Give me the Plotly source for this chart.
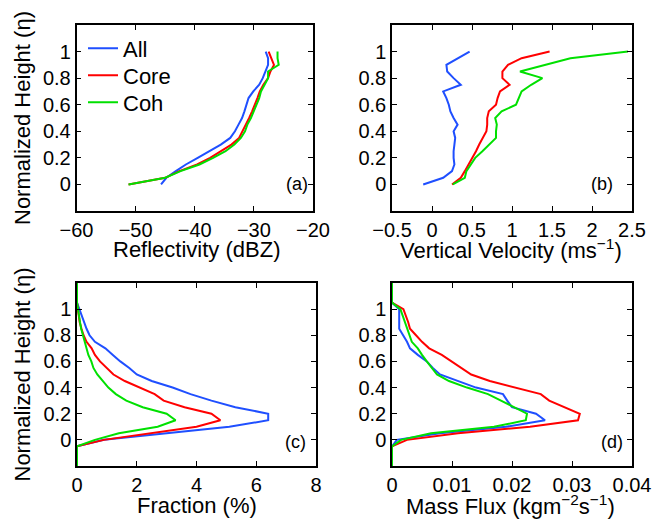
import plotly.graph_objects as go

# page size and the default 8px body margin of the written html page
PAGE_W, PAGE_H = 670, 522
OFF = 8
W, H = PAGE_W - OFF, PAGE_H - OFF

# ---------------- data ----------------
height_ab = [0.0, 0.05, 0.1, 0.15, 0.2, 0.25, 0.3, 0.35, 0.4, 0.45, 0.5,
             0.55, 0.6, 0.65, 0.7, 0.75, 0.8, 0.85, 0.9, 0.95, 1.0]

refl_all = [-45.7, -44.8, -43.2, -41.5, -39.5, -37.5, -35.6, -34.0, -33.2, -32.6, -32.0,
            -31.6, -31.2, -30.9, -30.1, -29.1, -28.5, -28.0, -27.6, -27.6, -28.0]
refl_core = [-51.2, -45.0, -42.6, -39.6, -37.4, -35.5, -33.8, -32.5, -31.9, -31.4, -30.8,
             -30.3, -29.8, -29.4, -29.0, -28.4, -27.6, -27.2, -26.6, -27.0, -27.5]
refl_coh = [-51.2, -45.0, -42.4, -39.2, -36.9, -34.8, -33.3, -32.2, -31.5, -31.1, -30.5,
            -30.0, -29.5, -29.1, -28.8, -28.2, -27.6, -27.6, -25.8, -26.0, -26.0]

w_all = [-0.11, 0.14, 0.25, 0.28, 0.27, 0.27, 0.28, 0.29, 0.27, 0.32, 0.27,
         0.23, 0.21, 0.18, 0.14, 0.36, 0.27, 0.19, 0.18, 0.32, 0.47]
w_core = [0.25, 0.36, 0.41, 0.46, 0.50, 0.55, 0.59, 0.64, 0.68, 0.69, 0.69,
          0.71, 0.80, 0.82, 0.85, 0.97, 0.88, 0.88, 0.95, 1.12, 1.47]
w_coh = [0.26, 0.41, 0.43, 0.48, 0.54, 0.63, 0.72, 0.80, 0.80, 0.81, 0.79,
         0.87, 1.05, 1.09, 1.12, 1.24, 1.38, 1.10, 1.42, 1.73, 2.45]

height_cd = [-0.2, -0.15, -0.1, -0.05, 0.0, 0.05, 0.1, 0.15, 0.2, 0.25, 0.3, 0.35, 0.4,
             0.45, 0.5, 0.55, 0.6, 0.65, 0.7, 0.75, 0.8, 0.85, 0.9, 0.95, 1.0,
             1.05, 1.1, 1.15, 1.2]

frac_all = [0, 0, 0, 0, 0.9, 2.9, 5.1, 6.4, 6.4, 5.3, 4.5, 3.8, 3.2,
            2.5, 2.0, 1.75, 1.45, 1.2, 0.95, 0.6, 0.42, 0.32, 0.24, 0.15, 0.08,
            0, 0, 0, 0]
frac_core = [0, 0, 0, 0, 0.9, 2.4, 4.0, 4.8, 4.5, 3.6, 2.9, 2.6, 2.1,
             1.6, 1.22, 1.0, 0.77, 0.6, 0.49, 0.32, 0.22, 0.15, 0.09, 0.06, 0.03,
             0, 0, 0, 0]
frac_coh = [0, 0, 0, 0, 0.6, 1.4, 2.7, 3.3, 3.0, 2.2, 1.65, 1.3, 1.05,
            0.85, 0.68, 0.55, 0.48, 0.38, 0.32, 0.24, 0.18, 0.14, 0.1, 0.06, 0.04,
            0, 0, 0, 0]

mf_all = [0, 0, 0, 0, 0.0008, 0.008, 0.019, 0.0255, 0.0240, 0.0200, 0.0192, 0.0185, 0.0140,
          0.0110, 0.0080, 0.0068, 0.0058, 0.0043, 0.0030, 0.0025, 0.0019, 0.0012, 0.0012,
          0.0012, 0.0012, 0, 0, 0, 0]
mf_core = [0, 0, 0, 0, 0.0025, 0.011, 0.023, 0.0310, 0.0313, 0.0287, 0.0262, 0.0248, 0.0205,
           0.0163, 0.0132, 0.0115, 0.0100, 0.0083, 0.0062, 0.0050, 0.0040, 0.0030, 0.0027,
           0.0023, 0.0019, 0, 0, 0, 0]
mf_coh = [0, 0, 0, 0, 0.0015, 0.0065, 0.017, 0.0223, 0.0225, 0.0203, 0.0182, 0.0160, 0.0125,
          0.0095, 0.0075, 0.0066, 0.0058, 0.0050, 0.0043, 0.0033, 0.0029, 0.0026, 0.0022,
          0.0017, 0.0014, 0, 0, 0, 0]

series_names = ["All", "Core", "Coh"]
colors = ["#1f4fff", "#ff0000", "#00e000"]

x_ticks_a = [-60, -50, -40, -30, -20]
x_ticks_b = [-0.5, 0, 0.5, 1, 1.5, 2, 2.5]
x_ticks_c = [0, 2, 4, 6, 8]
x_ticks_d = [0, 0.01, 0.02, 0.03, 0.04]
y_ticks = [0, 0.2, 0.4, 0.6, 0.8, 1]

# ---------------- figure ----------------
FONT = "Liberation Sans, Arial, Helvetica, sans-serif"
TICKFONT = 20
TITLEFONT = 22


def px_x(p):
    """page pixel -> paper x"""
    return (p - OFF) / W


def px_y(p):
    """page pixel -> paper y"""
    return 1 - (p - OFF) / H


fig = go.Figure()

legend_ids = ["legend", "legend2", "legend3"]
panels = [
    ("x", "y", height_ab, [refl_all, refl_core, refl_coh], True),
    ("x2", "y2", height_ab, [w_all, w_core, w_coh], False),
    ("x3", "y3", height_cd, [frac_all, frac_core, frac_coh], False),
    ("x4", "y4", height_cd, [mf_all, mf_core, mf_coh], False),
]
for xa, ya, hs, vals, show in panels:
    for name, col, v, lg in zip(series_names, colors, vals, legend_ids):
        fig.add_trace(go.Scatter(x=v, y=hs, mode="lines", name=name,
                                 line=dict(color=col, width=2),
                                 xaxis=xa, yaxis=ya, showlegend=show, legend=lg))


def axis_common():
    return dict(showline=True, linecolor="black", linewidth=1.5, mirror="ticks",
                ticks="inside", ticklen=5, tickwidth=1.2, tickcolor="black",
                showgrid=False, zeroline=False, automargin=False,
                tickfont=dict(family=FONT, size=TICKFONT, color="black"))


# panel boxes in page pixels: left, right, top, bottom
boxes = {
    "a": (76.5, 313, 25, 211),
    "b": (392, 632, 25, 211),
    "c": (77, 316, 283, 466),
    "d": (392, 632, 283, 466),
}

layout = dict(
    width=W, height=H,
    margin=dict(l=0, r=0, t=0, b=0),
    paper_bgcolor="white", plot_bgcolor="white",
    template="none",
    font=dict(family=FONT, color="black"),
    showlegend=True,
)

legend_rows = [48.5, 75.5, 102.5]
for lg, row in zip(legend_ids, legend_rows):
    layout[lg] = dict(x=px_x(83), y=px_y(row), xanchor="left", yanchor="middle",
                      bgcolor="rgba(0,0,0,0)", borderwidth=0,
                      font=dict(family=FONT, size=TITLEFONT, color="black"),
                      itemwidth=30)

axdefs = [("a", "xaxis", "yaxis", [-60, -20], x_ticks_a, "y", "x"),
          ("b", "xaxis2", "yaxis2", [-0.5, 2.5], x_ticks_b, "y2", "x2"),
          ("c", "xaxis3", "yaxis3", [0, 8], x_ticks_c, "y3", "x3"),
          ("d", "xaxis4", "yaxis4", [0, 0.04], x_ticks_d, "y4", "x4")]
for key, xk, yk, xr, xt, anchor_y, anchor_x in axdefs:
    l, r, t, b = boxes[key]
    xd = axis_common()
    xd.update(domain=[px_x(l), px_x(r)], range=xr, tickvals=xt, anchor=anchor_y)
    yd = axis_common()
    yd.update(domain=[px_y(b), px_y(t)], range=[-0.2, 1.2], tickvals=y_ticks,
              anchor=anchor_x)
    layout[xk] = xd
    layout[yk] = yd

annotations = []
# x-axis titles
xtitles = [("Reflectivity (dBZ)", 196, 249),
           ("Vertical Velocity (ms<sup>−1</sup>)", 511, 249),
           ("Fraction (%)", 197, 505),
           ("Mass Flux (kgm<sup>−2</sup>s<sup>−1</sup>)", 510, 505)]
for txt, cx, cy in xtitles:
    annotations.append(dict(text=txt, x=px_x(cx), y=px_y(cy), xref="paper", yref="paper",
                            xanchor="center", yanchor="middle", showarrow=False,
                            font=dict(family=FONT, size=TITLEFONT, color="black")))
# y-axis titles
for cy in [118, 374.5]:
    annotations.append(dict(text="Normalized Height (η)", x=px_x(22), y=px_y(cy),
                            xref="paper", yref="paper", xanchor="center",
                            yanchor="middle", textangle=-90, showarrow=False,
                            font=dict(family=FONT, size=TITLEFONT, color="black")))
# panel labels
for txt, rx, cy in [("(a)", 310, 184), ("(b)", 615, 184), ("(c)", 308, 442), ("(d)", 625, 442)]:
    annotations.append(dict(text=txt, x=px_x(rx), y=px_y(cy), xref="paper", yref="paper",
                            xanchor="right", yanchor="middle", showarrow=False,
                            font=dict(family=FONT, size=18, color="black")))
layout["annotations"] = annotations

fig.update_layout(**layout)
fig.write_html("out.html")
